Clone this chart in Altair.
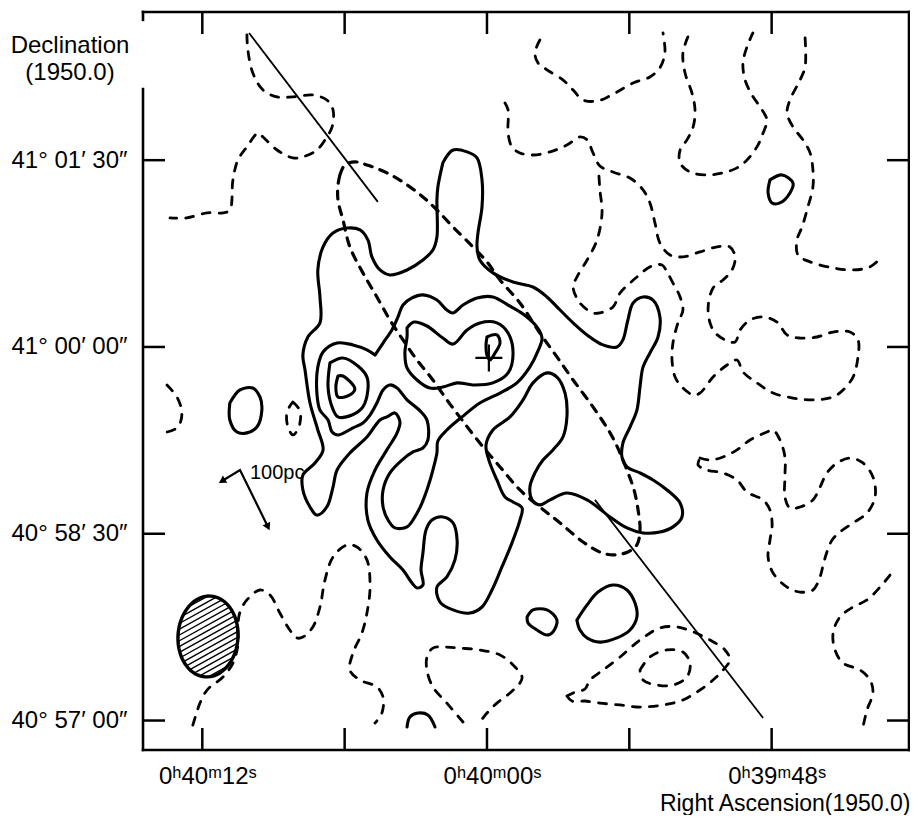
import math
import altair as alt
import pandas as pd

# ---------------- plot geometry / axes ----------------
W, H = 766, 738
X_DOMAIN = [-17.79, 14.50]     # RA offset from 0h40m00s (seconds of time)
Y_DOMAIN = [-194.2, 161.4]     # Dec offset from 41d00m00s (arcsec)
LEFT_GAP = [124.3, 157.6]      # Dec range where the left frame line is interrupted

X_MAJOR = [12, 0, -12]
X_MAJOR_LABELS = ["0ʰ40ᵐ12ˢ", "0ʰ40ᵐ00ˢ", "0ʰ39ᵐ48ˢ"]
X_ALL_TICKS = [12, 6, 0, -6, -12]
Y_MAJOR = [90, 0, -90, -180]
Y_MAJOR_LABELS = ["41° 01′ 30″", "41° 00′ 00″", "40° 58′ 30″", "40° 57′ 00″"]

# ---------------- solid contours (positive levels) ----------------
SOLID_CLOSED = {
    "L1_outer": [(1.86,88.7),(1.43,94.9),(0.84,94.0),(0.42,91.1),(0.21,80.5),(0.21,67.5),(0.38,54.9),(0.42,48.2),(0.30,41.9),(-0.25,35.7),(-1.10,31.3),(-1.94,28.9),(-2.53,24.1),(-3.08,17.8),(-3.63,11.6),(-4.22,5.8),(-4.89,1.0),(-5.48,0.0),(-5.73,3.4),(-5.94,13.0),(-6.16,21.2),(-6.58,24.1),(-7.00,22.6),(-7.29,14.5),(-7.21,4.8),(-6.87,-2.9),(-6.58,-9.6),(-6.45,-19.3),(-6.32,-30.4),(-6.03,-38.6),(-5.73,-46.3),(-5.69,-53.0),(-5.90,-57.8),(-6.45,-60.7),(-7.00,-64.1),(-7.59,-68.9),(-8.14,-75.2),(-8.22,-81.9),(-7.84,-86.7),(-7.29,-89.2),(-6.58,-89.6),(-5.90,-87.2),(-5.19,-81.9),(-4.22,-73.7),(-3.37,-70.4),(-2.66,-73.7),(-2.23,-76.1),(-1.90,-73.7),(-1.81,-67.5),(-2.02,-60.7),(-2.36,-54.5),(-2.78,-49.6),(-3.20,-43.4),(-3.37,-33.7),(-3.29,-22.2),(-2.95,-14.5),(-2.53,-12.5),(-1.94,-17.3),(-1.52,-25.5),(-0.97,-33.7),(-0.25,-40.0),(0.04,-47.2),(-0.08,-54.5),(-0.42,-64.1),(-0.76,-72.3),(-1.10,-74.7),(-1.48,-77.6),(-1.39,-83.4),(-1.05,-94.5),(-0.63,-106.0),(-0.21,-117.1),(0.21,-125.3),(0.72,-128.2),(1.43,-126.7),(1.98,-122.9),(2.11,-115.7),(1.69,-110.8),(1.35,-102.6),(1.26,-93.0),(1.43,-84.8),(1.86,-81.9),(2.32,-83.4),(2.57,-88.2),(2.70,-99.3),(2.78,-107.5),(2.70,-114.7),(2.95,-116.1),(3.16,-113.7),(3.54,-107.5),(4.09,-101.2),(4.64,-93.0),(5.02,-83.4),(5.06,-70.4),(4.72,-59.3),(4.22,-49.6),(3.79,-41.4),(3.67,-36.1),(3.88,-31.8),(4.22,-33.7),(4.51,-35.2),(5.06,-43.4),(5.78,-51.1),(6.32,-59.3),(6.49,-67.5),(6.75,-77.1),(7.17,-81.0),(7.46,-77.1),(7.76,-68.9),(7.76,-61.7),(7.25,-55.9),(6.91,-49.6),(7.13,-40.0),(7.46,-27.0),(7.67,-11.1),(7.76,-3.9),(7.55,4.8),(7.04,11.6),(7.04,24.1),(7.13,37.1),(6.91,48.2),(6.49,54.9),(5.90,57.3),(5.35,56.4),(5.02,51.6),(4.85,43.4),(4.51,37.1),(4.09,34.7),(3.37,37.1),(2.70,41.9),(2.28,46.7),(2.11,53.0),(2.11,70.8),(2.07,77.1)],
    "L2": [(4.72,-3.9),(4.38,1.9),(4.01,8.2),(3.75,14.5),(3.54,20.2),(3.16,23.6),(2.70,25.1),(2.11,22.6),(1.69,17.8),(1.43,16.4),(1.01,20.2),(0.42,23.6),(-0.25,24.1),(-0.89,20.2),(-1.52,15.9),(-2.11,9.6),(-2.32,4.3),(-2.15,-1.9),(-1.81,-9.6),(-1.26,-17.3),(-0.55,-22.2),(0.30,-27.0),(1.05,-33.7),(1.69,-40.0),(2.07,-45.3),(2.11,-51.1),(2.28,-59.3),(2.49,-67.5),(2.74,-75.2),(3.04,-81.9),(3.37,-86.7),(3.88,-87.2),(4.17,-83.4),(4.38,-77.1),(4.38,-68.9),(4.09,-60.7),(3.58,-54.5),(3.12,-50.6),(2.70,-48.7),(2.49,-44.8),(2.53,-35.2),(2.82,-30.8),(3.37,-25.5),(3.79,-19.8),(4.09,-18.3),(4.38,-20.7),(4.64,-27.0),(4.93,-32.8),(5.23,-36.6),(5.65,-39.0),(6.28,-42.4),(6.53,-41.0),(6.70,-35.2),(7.04,-30.4),(7.17,-22.2),(7.13,-9.6),(6.91,-2.4),(6.32,1.9),(5.65,1.0),(5.06,-1.4)],
    "L3_west": [(6.62,-7.7),(6.07,-5.3),(5.44,-9.2),(5.06,-14.5),(5.02,-20.7),(5.23,-28.9),(5.69,-32.8),(6.28,-33.7),(6.53,-28.9),(6.70,-19.3)],
    "L4_west": [(6.28,-14.0),(6.07,-14.0),(5.57,-20.2),(5.78,-23.1),(6.28,-24.1),(6.37,-19.3)],
    "L3_east": [(3.37,9.2),(3.08,12.0),(2.53,10.1),(1.86,4.3),(1.43,1.4),(0.84,8.2),(0.30,11.6),(-0.42,11.6),(-0.89,6.7),(-1.10,-2.9),(-0.89,-12.5),(-0.25,-17.3),(0.59,-18.3),(1.26,-17.3),(1.86,-19.3),(2.40,-19.8),(2.95,-15.9),(3.37,-10.1),(3.46,-2.9),(3.37,4.8)],
    "L4_east": [(0.00,4.8),(-0.42,5.8),(-0.55,1.9),(-0.34,-2.9),(-0.13,-6.3),(0.00,-3.9),(0.04,1.0)],
    "blob_w": [(10.84,-27.0),(10.41,-20.7),(9.87,-19.8),(9.57,-24.1),(9.49,-30.4),(9.70,-38.6),(10.12,-41.4),(10.54,-41.0),(10.84,-35.2)],
    "blob_ne": [(-11.93,80.5),(-12.44,82.9),(-12.90,79.0),(-12.77,74.2),(-12.35,69.4),(-12.02,69.4),(-11.85,74.2)],
    "blob_s1": [(-1.69,-130.1),(-1.94,-126.7),(-2.53,-126.7),(-2.95,-131.6),(-2.78,-137.3),(-2.53,-138.8),(-2.11,-136.4),(-1.73,-133.0)],
    "blob_s2": [(-3.79,-131.6),(-4.22,-124.3),(-4.68,-118.1),(-5.31,-114.7),(-5.90,-117.1),(-6.24,-123.4),(-6.32,-130.1),(-6.03,-136.4),(-5.48,-140.2),(-4.76,-142.2),(-4.22,-140.2),(-3.92,-136.4)],
}
SOLID_OPEN = {
    "arc_s": [(3.37,-183.1),(3.25,-178.3),(2.91,-176.4),(2.49,-177.3),(2.19,-183.1)],
}

# ---------------- dashed contours (negative levels) ----------------
DASHED_CLOSED = {
    "D7": [(-8.98,-53.5),(-9.40,-54.5),(-9.95,-53.0),(-10.54,-49.6),(-11.09,-44.8),(-11.80,-41.0),(-12.06,-40.0),(-12.35,-44.8),(-12.56,-53.0),(-12.56,-62.6),(-12.56,-72.3),(-12.77,-77.6),(-13.20,-77.1),(-13.74,-73.7),(-14.04,-67.5),(-14.33,-60.7),(-14.76,-55.9),(-15.30,-53.5),(-15.85,-55.9),(-16.27,-62.6),(-16.36,-72.3),(-16.02,-80.0),(-15.43,-84.8),(-14.88,-89.2),(-14.55,-93.0),(-14.33,-98.8),(-14.17,-105.1),(-14.04,-110.8),(-13.74,-117.1),(-13.20,-118.1),(-12.65,-115.7),(-12.06,-108.9),(-11.85,-101.2),(-11.93,-93.0),(-12.02,-85.8),(-11.93,-78.6),(-11.64,-73.7),(-10.96,-69.9),(-10.54,-64.1),(-9.95,-60.7),(-9.28,-59.3),(-8.90,-56.9)],
    "D9": [(-3.37,-168.2),(-3.58,-170.6),(-4.13,-170.6),(-4.76,-171.6),(-5.61,-172.5),(-6.45,-173.5),(-7.42,-172.5),(-8.26,-170.1),(-8.98,-165.3),(-9.53,-160.5),(-9.95,-155.7),(-10.24,-150.8),(-10.03,-146.0),(-9.40,-141.2),(-8.69,-137.3),(-8.01,-134.9),(-7.29,-135.4),(-6.45,-141.2),(-5.61,-149.4),(-4.89,-155.7),(-4.34,-160.5),(-4.13,-164.8),(-3.71,-166.3)],
    "D10": [(-6.45,-155.7),(-6.87,-149.4),(-7.59,-146.0),(-8.26,-147.0),(-8.56,-152.3),(-8.43,-159.0),(-7.84,-162.9),(-7.17,-162.9),(-6.58,-160.5)],
    "D_small": [(8.18,-26.5),(7.88,-30.8),(7.93,-38.6),(8.18,-42.4),(8.39,-38.6),(8.43,-31.3)],
}
DASHED_OPEN = {
    "D1": [(10.12,150.4),(10.08,143.1),(9.87,132.0),(9.44,123.8),(8.85,120.5),(8.18,120.5),(7.34,121.4),(6.75,119.0),(6.49,114.2),(6.53,106.0),(6.75,101.2),(7.17,94.9),(7.76,91.6),(8.18,91.1),(8.85,94.9),(9.44,101.2),(9.65,103.1),(10.12,96.4),(10.50,90.1),(10.71,80.5),(10.84,66.0),(11.13,64.6),(11.80,64.6),(12.65,62.2),(13.36,62.2)],
    "D2": [(-2.23,147.9),(-2.02,141.7),(-2.15,136.9),(-2.53,133.5),(-3.20,128.7),(-3.63,123.8),(-4.05,119.0),(-4.64,118.5),(-5.19,121.0),(-6.16,127.2),(-6.87,130.1),(-7.29,134.5),(-7.50,141.7),(-7.42,151.3)],
    "D3": [(-0.76,117.6),(-0.89,114.2),(-0.89,103.1),(-1.05,96.4),(-1.39,93.5),(-1.94,92.5),(-2.66,94.0),(-3.37,97.3),(-3.92,101.2),(-4.22,99.8),(-4.47,93.5),(-4.76,87.2),(-5.31,84.3),(-6.03,81.4),(-6.58,75.7),(-6.87,69.4),(-7.08,59.8),(-7.29,50.1),(-7.72,44.3),(-8.26,43.4),(-8.98,45.8),(-9.70,48.2),(-10.24,48.2),(-10.46,43.4),(-10.33,37.1),(-9.95,32.3),(-9.53,28.4),(-9.32,17.8),(-9.53,8.2),(-10.03,3.4),(-10.46,2.4),(-10.67,8.2),(-11.09,13.0),(-11.64,14.5),(-12.23,12.0),(-12.65,5.8),(-13.20,4.3),(-13.91,4.8),(-14.59,7.2),(-15.30,7.2),(-15.64,3.4),(-15.64,-4.8),(-15.43,-14.5),(-15.01,-20.7),(-14.59,-24.1),(-13.74,-25.5),(-12.90,-24.6),(-12.06,-22.2),(-11.38,-17.3),(-10.79,-12.0),(-10.54,-6.3),(-10.12,-8.7),(-9.53,-14.5),(-8.98,-22.2),(-8.69,-23.1),(-8.26,-19.8),(-7.93,-14.5),(-7.80,-6.3),(-7.84,1.9),(-8.05,11.6),(-8.26,17.8),(-8.14,24.1),(-7.84,30.8),(-7.59,36.1),(-7.38,39.5),(-6.87,38.6),(-6.32,33.7),(-6.03,30.8),(-5.61,26.0),(-5.31,19.3),(-4.76,16.4),(-4.47,16.4),(-3.92,21.2),(-3.63,28.9),(-3.79,33.7),(-4.22,41.9),(-4.64,51.6),(-4.85,64.6),(-4.76,75.7),(-4.72,82.4)],
    "D4": [(-8.47,149.4),(-8.26,141.7),(-8.35,132.0),(-8.64,122.4),(-8.77,114.2),(-8.69,106.0),(-8.43,99.8),(-8.14,94.9),(-8.14,88.7),(-8.56,84.3),(-9.28,82.9),(-9.95,83.9),(-10.54,86.3),(-10.96,90.1),(-11.38,96.4),(-11.64,103.1),(-11.80,109.4),(-11.51,115.7),(-11.17,121.4),(-10.88,128.7),(-10.79,136.9),(-10.96,144.6),(-11.21,151.3)],
    "D5": [(-13.41,148.9),(-13.41,134.9),(-13.20,128.7),(-12.77,119.0),(-12.65,112.8),(-12.90,106.0),(-13.32,99.8),(-13.62,93.5),(-13.74,85.3),(-13.74,77.1),(-13.53,67.5),(-13.28,57.8),(-13.07,51.6),(-13.11,44.3),(-13.62,41.0),(-14.59,38.1),(-15.43,37.1),(-16.15,38.6),(-16.65,43.4)],
    "D8": [(-16.99,-109.9),(-16.57,-115.7),(-16.02,-121.9),(-15.43,-125.3),(-14.88,-130.1),(-14.59,-137.8),(-14.67,-146.0),(-15.01,-152.3),(-15.73,-155.7),(-16.15,-160.5),(-16.27,-166.7),(-16.02,-174.9),(-15.85,-183.1)],
    "D13": [(12.40,-182.2),(12.23,-175.9),(12.10,-171.6),(11.80,-165.3),(11.13,-159.0),(10.71,-152.3),(10.50,-143.6),(10.50,-134.0),(10.41,-127.7),(10.12,-121.9),(9.57,-117.1),(9.15,-119.5),(8.73,-128.2),(8.31,-136.4),(8.01,-140.2),(7.76,-139.8),(7.34,-134.9),(7.04,-125.3),(6.83,-112.3),(6.49,-101.2),(5.90,-95.4),(5.48,-96.4),(5.06,-102.6),(4.93,-115.7),(5.06,-128.2),(5.27,-137.8),(5.65,-147.5),(5.78,-155.7),(5.35,-160.5),(4.64,-163.8),(4.38,-168.7),(4.43,-176.4),(4.72,-181.2)],
    "D14": [(1.01,-180.7),(1.69,-171.6),(2.28,-163.8),(2.53,-155.7),(2.53,-149.4),(2.28,-145.1),(1.69,-144.6),(1.14,-145.1),(0.30,-146.0),(-0.55,-148.4),(-1.10,-153.2),(-1.48,-159.0),(-1.39,-161.9),(-0.97,-166.7),(-0.42,-171.6),(0.00,-176.4),(0.30,-180.7)],
    "D_west": [(13.49,-18.3),(13.07,-24.1),(12.86,-31.8),(13.03,-38.6),(13.49,-41.0)],
}

# ---------------- galaxy outline, major axis, beam, nucleus, scale bar ----------------
OUTLINE = [(6.20,82.9),(5.99,87.7),(5.57,89.2),(5.06,87.7),(4.22,83.9),(3.37,78.1),(2.70,72.3),(2.11,66.0),(1.43,57.8),(0.59,48.2),(0.00,41.0),(-0.55,32.3),(-1.39,21.2),(-2.23,6.7),(-2.95,-4.8),(-3.63,-15.9),(-4.47,-28.9),(-5.19,-41.4),(-5.61,-51.1),(-5.90,-59.3),(-6.20,-68.9),(-6.37,-78.6),(-6.45,-88.2),(-6.32,-95.4),(-5.94,-98.8),(-5.31,-100.2),(-4.76,-98.8),(-4.05,-94.0),(-3.08,-84.8),(-2.23,-77.1),(-1.39,-68.9),(-0.55,-57.8),(0.30,-46.3),(1.05,-35.2),(1.69,-25.5),(2.28,-15.9),(2.95,-6.3),(3.54,3.4),(4.09,13.0),(4.64,24.1),(5.23,35.7),(5.78,48.2),(6.07,61.2),(6.28,70.8),(6.28,78.1)]
MAJOR_AXIS = {
    "upper": [(10.03,151.3),(4.60,69.9)],
    "lower": [(-4.55,-73.7),(-11.64,-178.8)],
}
BEAM_CENTER = (11.76, -139.5)
NUCLEUS = (-0.08, -5.3)
SCALE_BAR = [(11.17,-64.6),(10.41,-59.3),(9.23,-86.7)]
SCALE_LABEL = (9.99, -60.7, "100pc")

# ---------------- styling ----------------
FONT = "Liberation Sans, Arial, sans-serif"
TICK = 22
KX = W / (X_DOMAIN[1] - X_DOMAIN[0])
KY = H / (Y_DOMAIN[1] - Y_DOMAIN[0])


def label_expr(values, labels):
    parts = [f"datum.value == {v} ? '{l}'" for v, l in zip(values, labels)]
    return " : ".join(parts) + " : ''"


X_AXIS = alt.Axis(values=X_MAJOR, labelExpr=label_expr(X_MAJOR, X_MAJOR_LABELS),
                  grid=False, domain=False, ticks=False, tickSize=0,
                  labelPadding=14, labelOffset=5, labelFlush=False, labelOverlap=False,
                  labelFont=FONT, labelFontSize=24, labelColor="black",
                  title="Right Ascension(1950.0)", titleFont=FONT, titleFontSize=23,
                  titleFontWeight="normal", titleColor="black", titleX=W + 1, titleY=60,
                  titleAlign="right", titleBaseline="alphabetic", titleAngle=0)
Y_AXIS = alt.Axis(values=Y_MAJOR, labelExpr=label_expr(Y_MAJOR, Y_MAJOR_LABELS),
                  grid=False, domain=False, ticks=False, tickSize=0,
                  labelPadding=16, labelAlign="right", labelBaseline="middle",
                  labelFlush=False, labelOverlap=False,
                  labelFont=FONT, labelFontSize=24, labelColor="black",
                  title=["Declination", "(1950.0)"], titleFont=FONT, titleFontSize=24,
                  titleFontWeight="normal", titleColor="black", titleAngle=0,
                  titleX=-73.5, titleY=40, titleAlign="center",
                  titleBaseline="alphabetic", titleLineHeight=27)

XS = alt.Scale(domain=X_DOMAIN, reverse=True, nice=False, zero=False)
YS = alt.Scale(domain=Y_DOMAIN, nice=False, zero=False)
XE = alt.X("x:Q", scale=XS, axis=X_AXIS)
YE = alt.Y("y:Q", scale=YS, axis=Y_AXIS)


def lines_df(closed, opened):
    rows = []
    for name, pts in closed.items():
        seq = list(pts) + [pts[0]]
        for i, (x, y) in enumerate(seq):
            rows.append(dict(cid=name, i=i, x=x, y=y))
    for name, pts in opened.items():
        for i, (x, y) in enumerate(pts):
            rows.append(dict(cid=name, i=i, x=x, y=y))
    return pd.DataFrame(rows)


solid_df = lines_df(SOLID_CLOSED, SOLID_OPEN)
dashed_df = lines_df(DASHED_CLOSED, DASHED_OPEN)
outline_df = lines_df({"outline": OUTLINE}, {})
axis_df = lines_df({}, MAJOR_AXIS)

# frame
frame_df = pd.DataFrame([
    dict(x=X_DOMAIN[1], x2=X_DOMAIN[0], y=Y_DOMAIN[1], y2=Y_DOMAIN[1]),
    dict(x=X_DOMAIN[1], x2=X_DOMAIN[0], y=Y_DOMAIN[0], y2=Y_DOMAIN[0]),
    dict(x=X_DOMAIN[0], x2=X_DOMAIN[0], y=Y_DOMAIN[0], y2=Y_DOMAIN[1]),
    dict(x=X_DOMAIN[1], x2=X_DOMAIN[1], y=Y_DOMAIN[0], y2=LEFT_GAP[0]),
    dict(x=X_DOMAIN[1], x2=X_DOMAIN[1], y=LEFT_GAP[1], y2=Y_DOMAIN[1]),
])
frame = alt.Chart(frame_df).mark_rule(color="black", strokeWidth=2.6, strokeCap="square").encode(
    x=XE, x2="x2:Q", y=YE, y2="y2:Q")

xt_df = pd.DataFrame({"x": X_ALL_TICKS})
yt_df = pd.DataFrame({"y": Y_MAJOR})
tick_style = dict(color="black", strokeWidth=2.5)
top_ticks = alt.Chart(xt_df).mark_rule(**tick_style).encode(x=XE, y=alt.value(0), y2=alt.value(TICK))
bottom_ticks = alt.Chart(xt_df).mark_rule(**tick_style).encode(x=XE, y=alt.value(H), y2=alt.value(H - TICK))
left_ticks = alt.Chart(yt_df).mark_rule(**tick_style).encode(y=YE, x=alt.value(0), x2=alt.value(TICK))
right_ticks = alt.Chart(yt_df).mark_rule(**tick_style).encode(y=YE, x=alt.value(W), x2=alt.value(W - TICK))

line_enc = dict(x=XE, y=YE, detail="cid:N", order="i:Q")
solid = alt.Chart(solid_df).mark_line(color="black", strokeWidth=3.1, interpolate="catmull-rom",
                                      strokeCap="round", strokeJoin="round").encode(**line_enc)
dashed = alt.Chart(dashed_df).mark_line(color="black", strokeWidth=2.8, interpolate="catmull-rom",
                                        strokeDash=[8, 9], strokeCap="round").encode(**line_enc)
outline = alt.Chart(outline_df).mark_line(color="black", strokeWidth=3.2, interpolate="catmull-rom",
                                          strokeDash=[8, 8], strokeCap="round").encode(**line_enc)
major = alt.Chart(axis_df).mark_line(color="black", strokeWidth=1.8).encode(**line_enc)

# beam: hatched ellipse symbol
BEAM_RY_PX = 40.5
BEAM_RX = 30 / BEAM_RY_PX


def beam_paths(rx, tilt_deg=33.0, step=0.125):
    pts = [(rx * math.cos(2 * math.pi * k / 72), math.sin(2 * math.pi * k / 72)) for k in range(72)]
    outline_path = "M" + "L".join(f"{x:.3f},{y:.3f}" for x, y in pts) + "Z"
    th = math.radians(tilt_deg)
    dx, dy = math.cos(th), -math.sin(th)
    nx, ny = math.sin(th), math.cos(th)
    segs = []
    for k in range(-12, 13):
        s = k * step
        A = (dx / rx) ** 2 + dy ** 2
        B = 2 * (s * nx * dx / rx ** 2 + s * ny * dy)
        C = (s * nx / rx) ** 2 + (s * ny) ** 2 - 1
        disc = B * B - 4 * A * C
        if disc <= 0.02:
            continue
        u1 = (-B - math.sqrt(disc)) / (2 * A)
        u2 = (-B + math.sqrt(disc)) / (2 * A)
        p1 = (s * nx + u1 * dx, s * ny + u1 * dy)
        p2 = (s * nx + u2 * dx, s * ny + u2 * dy)
        segs.append(f"M{p1[0]:.3f},{p1[1]:.3f}L{p2[0]:.3f},{p2[1]:.3f}")
    return outline_path, "".join(segs)


beam_outline_path, beam_hatch_path = beam_paths(BEAM_RX)
beam_df = pd.DataFrame([{"x": BEAM_CENTER[0], "y": BEAM_CENTER[1]}])
beam_size = (2 * BEAM_RY_PX) ** 2
beam_hatch = alt.Chart(beam_df).mark_point(shape=beam_hatch_path, size=beam_size, filled=False,
                                           color="black", strokeWidth=1.4, angle=4, opacity=1).encode(x=XE, y=YE)
beam_edge = alt.Chart(beam_df).mark_point(shape=beam_outline_path, size=beam_size, filled=False,
                                          color="black", strokeWidth=3.4, angle=4, opacity=1).encode(x=XE, y=YE)

# nucleus cross
nuc_df = pd.DataFrame([{"x": NUCLEUS[0], "y": NUCLEUS[1]}])
nucleus = alt.Chart(nuc_df).mark_point(shape="M-1,0L1,0M0,-1L0,1", size=27 ** 2, filled=False,
                                       color="black", strokeWidth=2.2, opacity=1).encode(x=XE, y=YE)

# scale bar
sb_df = pd.DataFrame([dict(cid="bar", i=i, x=x, y=y) for i, (x, y) in enumerate(SCALE_BAR)])
scale_line = alt.Chart(sb_df).mark_line(color="black", strokeWidth=2.2).encode(**line_enc)


def head_angle(tip, prev):
    dxp = -(tip[0] - prev[0]) * KX
    dyp = -(tip[1] - prev[1]) * KY
    return math.degrees(math.atan2(dxp, -dyp)) % 360


heads_df = pd.DataFrame([
    dict(x=SCALE_BAR[0][0], y=SCALE_BAR[0][1], ang=head_angle(SCALE_BAR[0], SCALE_BAR[1])),
    dict(x=SCALE_BAR[2][0], y=SCALE_BAR[2][1], ang=head_angle(SCALE_BAR[2], SCALE_BAR[1])),
])
heads = alt.Chart(heads_df).mark_point(shape="triangle-up", filled=True, size=70, color="black",
                                       opacity=1).encode(x=XE, y=YE, angle=alt.Angle("ang:Q", scale=None))
sl_df = pd.DataFrame([{"x": SCALE_LABEL[0], "y": SCALE_LABEL[1], "t": SCALE_LABEL[2]}])
scale_text = alt.Chart(sl_df).mark_text(align="left", baseline="middle", font=FONT, fontSize=20,
                                        color="black").encode(x=XE, y=YE, text="t:N")

chart = alt.layer(
    frame, top_ticks, bottom_ticks, left_ticks, right_ticks,
    outline, major, dashed, solid, beam_hatch, beam_edge, nucleus,
    scale_line, heads, scale_text,
).properties(
    width=W, height=H,
    padding={"left": 135, "top": 4, "right": 1, "bottom": 65},
    autosize=alt.AutoSizeParams(type="none"),
    background="white",
).configure_view(stroke=None)

chart.save("out.html", embed_options={"renderer": "svg", "actions": False})
